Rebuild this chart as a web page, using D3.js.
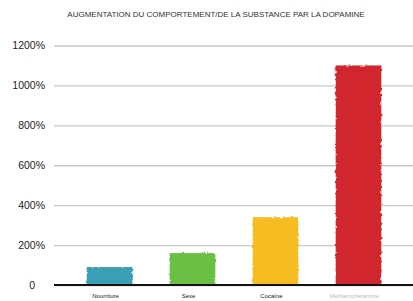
<!DOCTYPE html>
<html>
<head>
<meta charset="utf-8">
<script src="https://cdn.jsdelivr.net/npm/d3@7"></script>
<style>
  body { margin: 0; background: #fff; }
  text { font-family: "Liberation Sans", Arial, sans-serif; }
</style>
</head>
<body>
<div id="chart"></div>
<script>
var svgWidth = 413;
var svgHeight = 301;

var categories = ["Nourriture", "Sexe", "Cocaïne", "Méthamphétamine"];
var values = [90, 160, 340, 1100];
var colors = ["#3b9fb6", "#6cbf45", "#f5bd24", "#d1282d"];
var yTicks = [0, 200, 400, 600, 800, 1000, 1200];

var svg = d3.select("#chart")
  .append("svg")
  .attr("width", svgWidth)
  .attr("height", svgHeight);

// rough brush edge
var filter = svg.append("defs").append("filter")
  .attr("id", "brush")
  .attr("x", "-10%").attr("y", "-10%")
  .attr("width", "120%").attr("height", "120%");
filter.append("feTurbulence")
  .attr("type", "fractalNoise")
  .attr("baseFrequency", "0.35")
  .attr("numOctaves", 2)
  .attr("seed", 3)
  .attr("result", "noise");
filter.append("feDisplacementMap")
  .attr("in", "SourceGraphic")
  .attr("in2", "noise")
  .attr("scale", 3);

var x = d3.scaleBand()
  .domain(categories)
  .range([68, 400])
  .paddingInner(0.45)
  .paddingOuter(0.225);

var y = d3.scaleLinear()
  .domain([0, 1200])
  .range([285, 45.5]);

// title
svg.append("text")
  .attr("x", 216)
  .attr("y", 17)
  .attr("text-anchor", "middle")
  .attr("font-size", "8px")
  .attr("fill", "#333")
  .text("AUGMENTATION DU COMPORTEMENT/DE LA SUBSTANCE PAR LA DOPAMINE");

// grid + y labels
var yAxis = svg.append("g")
  .attr("transform", "translate(54,0)")
  .call(d3.axisLeft(y)
    .tickValues(yTicks)
    .tickSize(-360)
    .tickPadding(9)
    .tickFormat(d => d === 0 ? "0" : d + "%"));
yAxis.select(".domain").remove();
yAxis.selectAll(".tick line").attr("stroke", "#c8c8c8").attr("stroke-width", 1.4);
yAxis.selectAll(".tick text")
  .attr("font-size", "10.5px")
  .attr("fill", "#222")
  .attr("dx", d => d === 0 ? -10 : 0);

// bars
svg.append("g")
  .attr("filter", "url(#brush)")
  .selectAll("rect")
  .data(values)
  .enter()
  .append("rect")
  .attr("x", (d, i) => x(categories[i]))
  .attr("y", d => y(d))
  .attr("width", x.bandwidth())
  .attr("height", d => y(0) - y(d))
  .attr("fill", (d, i) => colors[i]);

// baseline
svg.append("line")
  .attr("x1", 54).attr("x2", 413)
  .attr("y1", y(0)).attr("y2", y(0))
  .attr("stroke", "#111")
  .attr("stroke-width", 2);

// category labels, close to the bottom edge
svg.append("g")
  .selectAll("text")
  .data(categories)
  .enter()
  .append("text")
  .attr("x", d => x(d) + x.bandwidth() / 2 - 4)
  .attr("y", 298)
  .attr("text-anchor", "middle")
  .attr("font-size", "6px")
  .attr("fill", (d, i) => i === 3 ? "#bbb" : "#222")
  .text(d => d);
</script>
</body>
</html>
